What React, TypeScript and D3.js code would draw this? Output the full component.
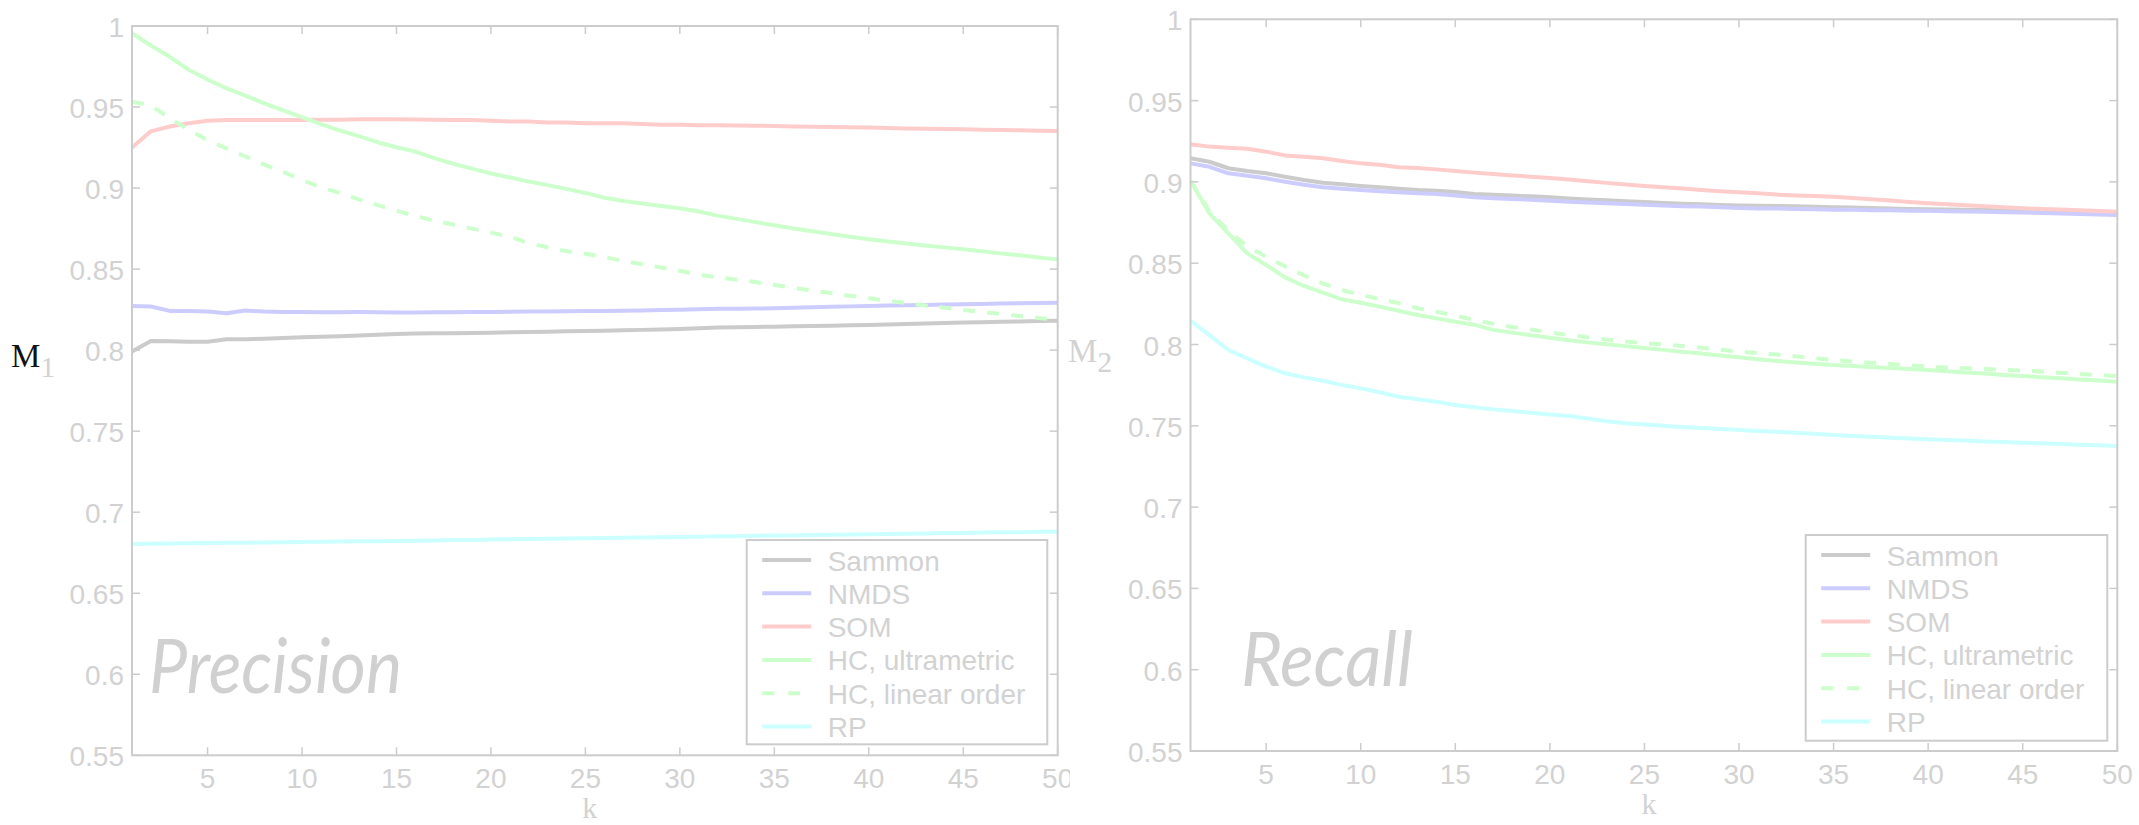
import React from 'react';
import * as d3 from 'd3';

// ---------- data ----------
const K: number[] = d3.range(1, 51);
const xTicks = [5, 10, 15, 20, 25, 30, 35, 40, 45, 50];
const yTicks = [0.55, 0.6, 0.65, 0.7, 0.75, 0.8, 0.85, 0.9, 0.95, 1];
const yTickLabels = ['0.55', '0.6', '0.65', '0.7', '0.75', '0.8', '0.85', '0.9', '0.95', '1'];

const seriesNames = ['Sammon', 'NMDS', 'SOM', 'HC, ultrametric', 'HC, linear order', 'RP'];
const seriesColors = ['#cbcbcb', '#ccccff', '#ffcccc', '#ccffcc', '#ccffcc', '#ccffff'];
const seriesDashed = [false, false, false, false, true, false];

// Precision (M1)
const precSammon = [
  0.7991, 0.8057, 0.8055, 0.8052, 0.8052, 0.8067, 0.8067, 0.8071, 0.8075, 0.8079,
  0.8083, 0.8086, 0.809, 0.8095, 0.81, 0.8102, 0.8104, 0.8104, 0.8106, 0.8108,
  0.811, 0.8112, 0.8114, 0.8116, 0.8118, 0.812, 0.8122, 0.8125, 0.8128, 0.8131,
  0.8135, 0.8139, 0.8141, 0.8143, 0.8145, 0.8147, 0.8149, 0.8151, 0.8153, 0.8155,
  0.8158, 0.8161, 0.8164, 0.8167, 0.817, 0.8172, 0.8175, 0.8177, 0.818, 0.8182,
];
const precNMDS = [
  0.8273, 0.8269, 0.8242, 0.8242, 0.8238, 0.8228, 0.8244, 0.8238, 0.8236, 0.8235,
  0.8234, 0.8234, 0.8235, 0.8234, 0.8232, 0.8232, 0.8233, 0.8234, 0.8235, 0.8236,
  0.8237, 0.8238, 0.8239, 0.824, 0.8241, 0.8242, 0.8243, 0.8245, 0.8247, 0.8249,
  0.8252, 0.8255, 0.8256, 0.8257, 0.8258, 0.8261, 0.8264, 0.8267, 0.827, 0.8273,
  0.8275, 0.8277, 0.8279, 0.8281, 0.8283, 0.8285, 0.8287, 0.8289, 0.8291, 0.8293,
];
const precSOM = [
  0.925, 0.935, 0.938, 0.94, 0.9415, 0.942, 0.942, 0.942, 0.942, 0.942,
  0.9422, 0.9422, 0.9425, 0.9425, 0.9425, 0.9423, 0.9422, 0.942, 0.942, 0.9415,
  0.941, 0.941, 0.9405, 0.9405, 0.94, 0.94, 0.94, 0.9395, 0.939, 0.939,
  0.9388, 0.9387, 0.9386, 0.9385, 0.9383, 0.938, 0.9378, 0.9377, 0.9375, 0.9373,
  0.937, 0.9368, 0.9366, 0.9365, 0.9363, 0.936, 0.9358, 0.9356, 0.9354, 0.9352,
];
const precHCUltra = [
  0.9955, 0.988, 0.981, 0.973, 0.967, 0.9615, 0.957, 0.9523, 0.948, 0.9437,
  0.9395, 0.9355, 0.932, 0.9283, 0.9252, 0.9225, 0.9185, 0.915, 0.912, 0.909,
  0.9065, 0.904, 0.9018, 0.8995, 0.897, 0.894, 0.892, 0.8905, 0.889, 0.8875,
  0.8855, 0.883, 0.881, 0.879, 0.877, 0.875, 0.8733, 0.8717, 0.87, 0.8684,
  0.867, 0.8658, 0.8646, 0.8634, 0.8622, 0.861, 0.8597, 0.8585, 0.8572, 0.856,
];
const precHCLinear = [
  0.9533, 0.951, 0.943, 0.936, 0.9295, 0.9245, 0.9195, 0.9145, 0.91, 0.905,
  0.9005, 0.897, 0.893, 0.8895, 0.886, 0.8828, 0.8798, 0.8775, 0.875, 0.8725,
  0.87, 0.866, 0.8635, 0.861, 0.8595, 0.8575, 0.855, 0.853, 0.851, 0.849,
  0.8464, 0.845, 0.8435, 0.842, 0.8402, 0.8385, 0.8368, 0.8352, 0.8336, 0.832,
  0.8305, 0.829, 0.8276, 0.8262, 0.8248, 0.8236, 0.8223, 0.821, 0.8198, 0.8186,
];
const precRP = [
  0.6804, 0.6805, 0.6807, 0.6808, 0.681, 0.6811, 0.6812, 0.6813, 0.6815, 0.6816,
  0.6817, 0.6819, 0.682, 0.6821, 0.6823, 0.6824, 0.6826, 0.6828, 0.6829, 0.6831,
  0.6833, 0.6834, 0.6836, 0.6837, 0.6839, 0.6841, 0.6842, 0.6844, 0.6846, 0.6847,
  0.6849, 0.6851, 0.6852, 0.6854, 0.6856, 0.6857, 0.6859, 0.6861, 0.6862, 0.6864,
  0.6866, 0.6867, 0.6869, 0.6871, 0.6872, 0.6874, 0.6876, 0.6877, 0.6879, 0.688,
];

// Recall (M2)
const recSammon = [
  0.9145, 0.9124, 0.9084, 0.9067, 0.9053, 0.9032, 0.9012, 0.8995, 0.8985, 0.8975,
  0.8967, 0.8958, 0.895, 0.8946, 0.8938, 0.8926, 0.8921, 0.8916, 0.8911, 0.8905,
  0.8898, 0.8892, 0.8887, 0.8881, 0.8876, 0.8871, 0.8866, 0.8862, 0.8858, 0.8855,
  0.8853, 0.8852, 0.885, 0.8847, 0.8844, 0.8842, 0.8839, 0.8837, 0.8834, 0.8832,
  0.883, 0.8829, 0.8827, 0.8826, 0.8824, 0.8821, 0.8818, 0.8814, 0.881, 0.8807,
];
const recNMDS = [
  0.9114, 0.9093, 0.9053, 0.9038, 0.9022, 0.9001, 0.8982, 0.8967, 0.8958, 0.895,
  0.8942, 0.8936, 0.893, 0.8926, 0.8917, 0.8905, 0.89, 0.8895, 0.889, 0.8884,
  0.8878, 0.8873, 0.8868, 0.8864, 0.8859, 0.8855, 0.8851, 0.8848, 0.8844, 0.884,
  0.8837, 0.8836, 0.8834, 0.8832, 0.8829, 0.8828, 0.8826, 0.8825, 0.8823, 0.8822,
  0.882, 0.8818, 0.8816, 0.8814, 0.8812, 0.8809, 0.8806, 0.8803, 0.88, 0.8797,
];
const recSOM = [
  0.9231, 0.9217, 0.921, 0.9204, 0.9186, 0.9163, 0.9155, 0.9145, 0.9129, 0.9114,
  0.9106, 0.909, 0.9086, 0.9077, 0.9067, 0.9057, 0.9048, 0.904, 0.9032, 0.9024,
  0.9015, 0.9004, 0.8994, 0.8984, 0.8975, 0.8967, 0.8959, 0.895, 0.8942, 0.8936,
  0.893, 0.8922, 0.8917, 0.8913, 0.8909, 0.8901, 0.8893, 0.8885, 0.8876, 0.8868,
  0.8862, 0.8856, 0.885, 0.8844, 0.8838, 0.8834, 0.883, 0.8826, 0.8821, 0.8817,
];
const recHCUltra = [
  0.9006, 0.8807, 0.8684, 0.8561, 0.8489, 0.8413, 0.836, 0.8319, 0.8278, 0.8257,
  0.8233, 0.8208, 0.8181, 0.8161, 0.814, 0.8122, 0.809, 0.8073, 0.8057, 0.8042,
  0.8026, 0.8013, 0.8001, 0.799, 0.7979, 0.7967, 0.7955, 0.7944, 0.7933, 0.7921,
  0.7909, 0.7899, 0.789, 0.7882, 0.7874, 0.7868, 0.7862, 0.7856, 0.785, 0.7843,
  0.7836, 0.7828, 0.7821, 0.7813, 0.7806, 0.7799, 0.7792, 0.7785, 0.7778, 0.7771,
];
const recHCLinear = [
  0.9006, 0.882, 0.87, 0.8605, 0.854, 0.848, 0.8425, 0.8375, 0.8335, 0.8305,
  0.828, 0.8255, 0.8223, 0.8201, 0.8178, 0.8151, 0.8128, 0.8108, 0.8092, 0.8074,
  0.8058, 0.8044, 0.803, 0.8018, 0.8009, 0.8, 0.7991, 0.798, 0.7968, 0.7957,
  0.7947, 0.7938, 0.7927, 0.7916, 0.7905, 0.7896, 0.7888, 0.788, 0.7872, 0.7864,
  0.7859, 0.7854, 0.7849, 0.7845, 0.784, 0.7833, 0.7826, 0.7819, 0.7812, 0.7806,
];
const recRP = [
  0.8146, 0.8058, 0.7966, 0.7915, 0.7864, 0.7823, 0.7798, 0.7777, 0.7751, 0.773,
  0.7706, 0.7679, 0.7663, 0.7648, 0.7628, 0.7614, 0.7601, 0.7591, 0.758, 0.757,
  0.756, 0.7545, 0.7528, 0.7515, 0.7508, 0.75, 0.7493, 0.7487, 0.7481, 0.7474,
  0.7468, 0.7464, 0.7458, 0.7451, 0.7443, 0.7438, 0.7433, 0.7427, 0.7422, 0.7417,
  0.7413, 0.7409, 0.7404, 0.74, 0.7396, 0.7392, 0.7388, 0.7384, 0.738, 0.7376,
];

const precisionSeries = [precSammon, precNMDS, precSOM, precHCUltra, precHCLinear, precRP];
const recallSeries = [recSammon, recNMDS, recSOM, recHCUltra, recHCLinear, recRP];

// ---------- styling ----------
const AXIS = '#cccccc';
const TXT = '#d2d2d2';
const SANS = '"Liberation Sans", Arial, Helvetica, sans-serif';
const SERIF = '"Liberation Serif", "Times New Roman", serif';

type PanelProps = {
  id: string;
  x0: number; x1: number; y0: number; y1: number;
  series: number[][];
  mSub: string;
  mX: number;
  mBlack: boolean;
  watermark: string;
  wmX: number; wmLen: number;
  legend: { x: number; y: number; w: number; h: number };
  clipRight?: number;
};

function Panel(p: PanelProps) {
  const x = d3.scaleLinear().domain([1, 50]).range([p.x0, p.x1]);
  const y = d3.scaleLinear().domain([0.55, 1]).range([p.y1, p.y0]);
  const line = d3.line<number>().x((_, i) => x(K[i])).y((v) => y(v));
  const tl = 8;
  const rowH = 33.3;
  const cx = (p.x0 + p.x1) / 2;
  const midY = y(0.8);
  const content = (
    <g>
      {/* watermark */}
      <text x={p.wmX} y={p.y0 + 667} fontFamily='Lato, "Open Sans", sans-serif' fontStyle="italic"
        fontSize={76} fill="#d0d0d0" textLength={p.wmLen} lengthAdjust="spacingAndGlyphs">{p.watermark}</text>
      {/* series */}
      {p.series.map((s, i) => (
        <path key={i} d={line(s) || ''} fill="none" stroke={seriesColors[i]} strokeWidth={4}
          strokeDasharray={seriesDashed[i] ? '12,12' : undefined} strokeLinejoin="round" />
      ))}
      {/* box */}
      <rect x={p.x0} y={p.y0} width={p.x1 - p.x0} height={p.y1 - p.y0} fill="none" stroke={AXIS} strokeWidth={2} />
      {/* y ticks */}
      {yTicks.map((t, i) => (
        <g key={'y' + i}>
          <line x1={p.x0} x2={p.x0 + tl} y1={y(t)} y2={y(t)} stroke={AXIS} strokeWidth={1.5} />
          <line x1={p.x1} x2={p.x1 - tl} y1={y(t)} y2={y(t)} stroke={AXIS} strokeWidth={1.5} />
          <text x={p.x0 - 8} y={y(t) + 11} textAnchor="end" fontFamily={SANS} fontSize={28} fill={TXT}>{yTickLabels[i]}</text>
        </g>
      ))}
      {/* x ticks */}
      {xTicks.map((t, i) => (
        <g key={'x' + i}>
          <line x1={x(t)} x2={x(t)} y1={p.y1} y2={p.y1 - tl} stroke={AXIS} strokeWidth={1.5} />
          <line x1={x(t)} x2={x(t)} y1={p.y0} y2={p.y0 + tl} stroke={AXIS} strokeWidth={1.5} />
          <text x={x(t)} y={p.y1 + 33} textAnchor="middle" fontFamily={SANS} fontSize={28} fill={TXT}>{String(t)}</text>
        </g>
      ))}
      {/* axis labels */}
      <text x={cx - 5} y={p.y1 + 63} textAnchor="middle" fontFamily={SERIF} fontSize={30} fill={TXT}>k</text>
      <text x={p.mX} y={midY + 17} fontFamily={SERIF} fontSize={33}>
        <tspan fill={p.mBlack ? '#111111' : TXT}>M</tspan>
        <tspan fill={TXT} fontSize={30} dy={10}>{p.mSub}</tspan>
      </text>
      {/* legend */}
      <rect x={p.legend.x} y={p.legend.y} width={p.legend.w} height={p.legend.h} fill="#ffffff" stroke={AXIS} strokeWidth={2} />
      {seriesNames.map((n, i) => {
        const ly = p.legend.y + 20 + i * rowH;
        return (
          <g key={'l' + i}>
            <line x1={p.legend.x + 15.5} x2={p.legend.x + 64.5} y1={ly} y2={ly} stroke={seriesColors[i]} strokeWidth={4}
              strokeDasharray={seriesDashed[i] ? '12,14' : undefined} />
            <text x={p.legend.x + 81} y={ly + 10.5} fontFamily={SANS} fontSize={28} fill={TXT}>{n}</text>
          </g>
        );
      })}
    </g>
  );
  if (p.clipRight) {
    return (
      <g>
        <defs>
          <clipPath id={p.id + '-clip'}>
            <rect x={0} y={0} width={p.clipRight} height={825} />
          </clipPath>
        </defs>
        <g clipPath={`url(#${p.id}-clip)`}>{content}</g>
      </g>
    );
  }
  return content;
}

export default function App() {
  return (
    <svg width={2139} height={825} style={{ position: 'absolute', left: 0, top: 0, background: '#ffffff' }}>
      <rect x={0} y={0} width={2139} height={825} fill="#ffffff" />
      <Panel id="prec" x0={132} x1={1057.7} y0={26} y1={755.3} series={precisionSeries}
        mSub="1" mX={11} mBlack={true} watermark="Precision" wmX={149} wmLen={253}
        legend={{ x: 746.7, y: 540, w: 300.6, h: 204.3 }} clipRight={1070} />
      <Panel id="rec" x0={1190.5} x1={2117.3} y0={19.3} y1={751} series={recallSeries}
        mSub="2" mX={1068} mBlack={false} watermark="Recall" wmX={1241} wmLen={172}
        legend={{ x: 1805.7, y: 535, w: 301.6, h: 205.7 }} />
    </svg>
  );
}
